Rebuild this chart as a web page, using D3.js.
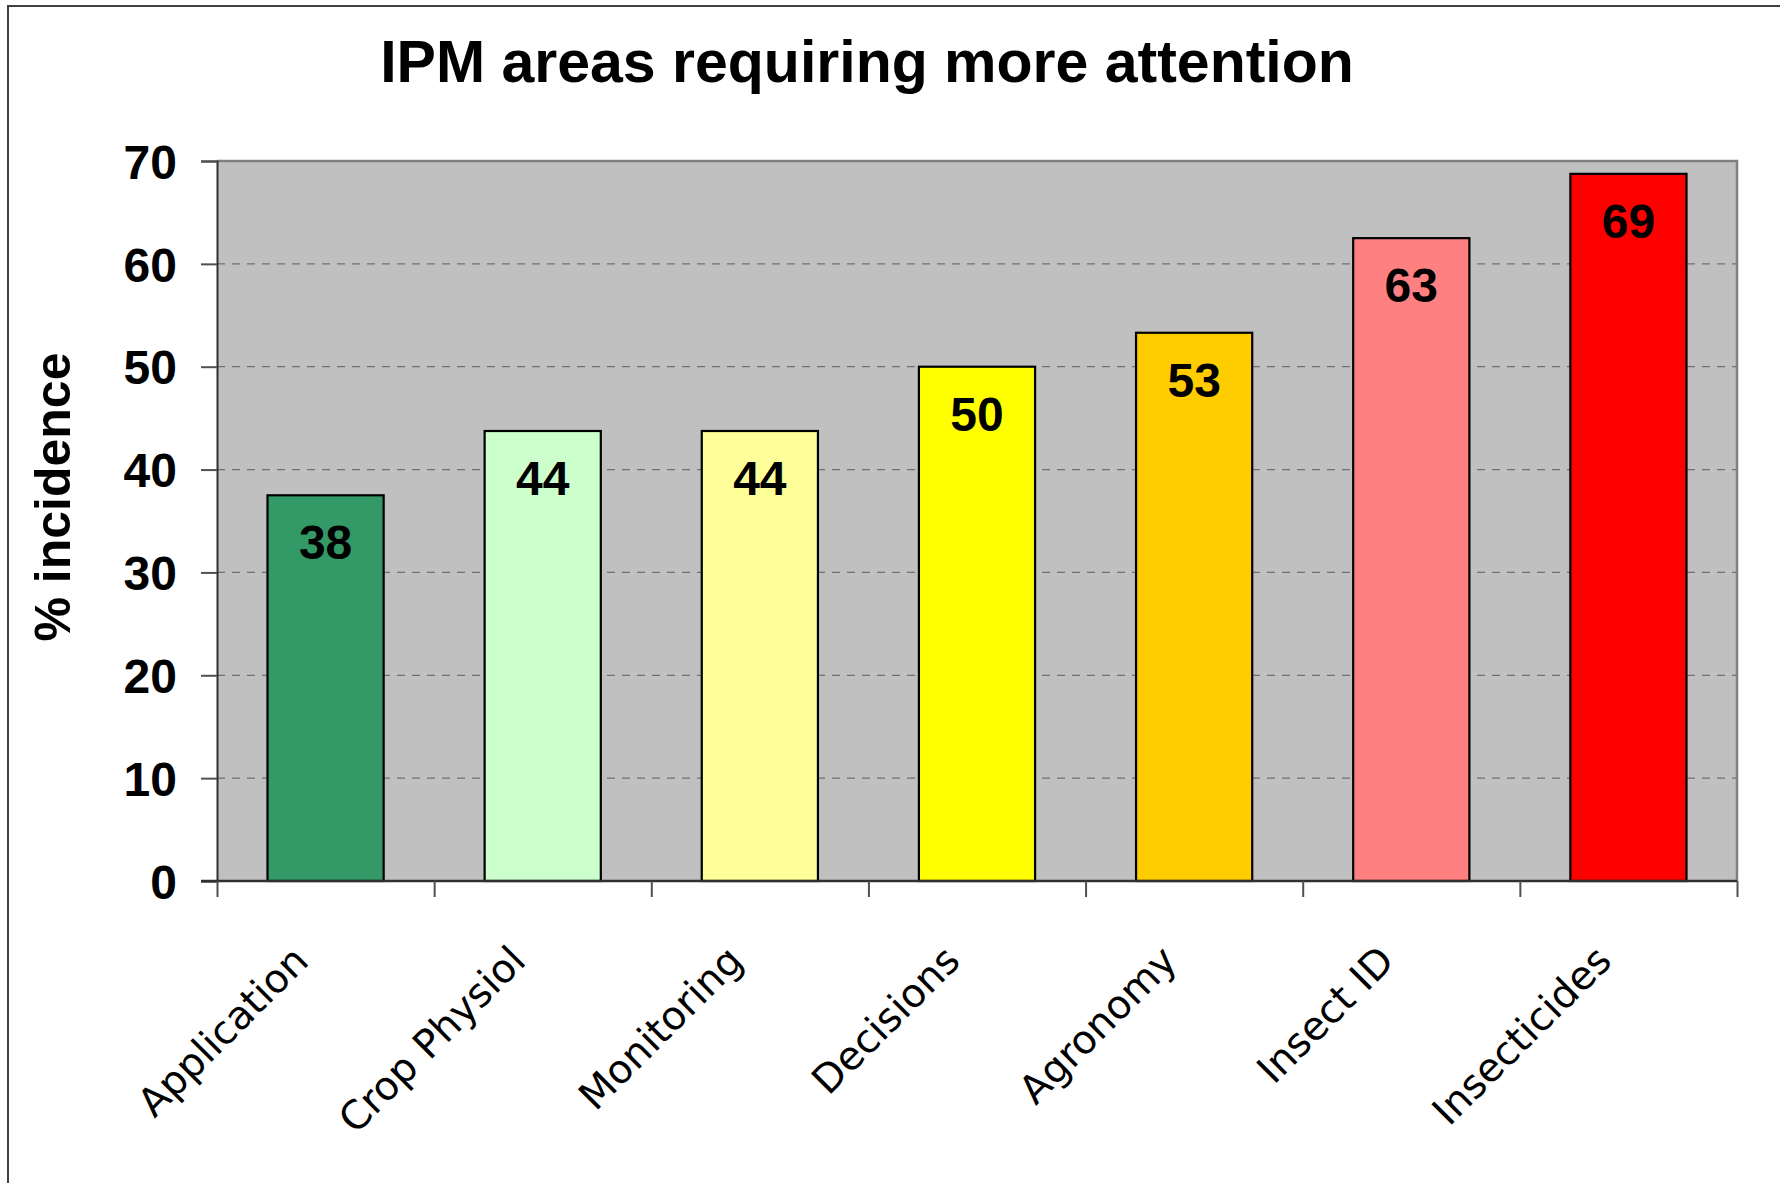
<!DOCTYPE html>
<html>
<head>
<meta charset="utf-8">
<script src="https://cdn.jsdelivr.net/npm/d3@7"></script>
<style>
  html, body { margin: 0; padding: 0; background: #fff; }
  svg { display: block; }
</style>
</head>
<body>
<div id="chart"></div>
<script>
(function () {
  // data
  const categories = ['Application', 'Crop Physiol', 'Monitoring', 'Decisions', 'Agronomy', 'Insect ID', 'Insecticides'];
  const values = [37.5, 43.75, 43.75, 50, 53.3, 62.5, 68.75];
  const barColors = ['#339966', '#CCFFCC', '#FFFF99', '#FFFF00', '#FFCC00', '#FF8080', '#FF0000'];
  const yTicks = [0, 10, 20, 30, 40, 50, 60, 70];

  const width = 1780, height = 1183;
  const plot = { left: 217, top: 161, right: 1737, bottom: 881 };
  const boldFont = '"Liberation Sans", Arial, sans-serif';
  const labelFont = '"DejaVu Sans", Verdana, sans-serif';

  const svg = d3.select('#chart').append('svg')
    .attr('width', width).attr('height', height);

  svg.append('rect').attr('width', width).attr('height', height).attr('fill', '#fff');

  // outer frame (bottom runs off the page)
  svg.append('rect')
    .attr('x', 8).attr('y', 6).attr('width', width).attr('height', height + 40)
    .attr('fill', 'none').attr('stroke', '#404040').attr('stroke-width', 2);

  const x = d3.scaleBand()
    .domain(categories)
    .range([plot.left, plot.right])
    .paddingInner(0.465)
    .paddingOuter(0.2325);

  // boundary ticks sit between categories
  const xEdge = d3.scaleLinear().domain([0, categories.length]).range([plot.left, plot.right]);

  const y = d3.scaleLinear().domain([0, 70]).range([plot.bottom, plot.top]);

  // plot background
  svg.append('rect')
    .attr('x', plot.left).attr('y', plot.top)
    .attr('width', plot.right - plot.left).attr('height', plot.bottom - plot.top)
    .attr('fill', '#C0C0C0');

  // gridlines
  svg.append('g').selectAll('line')
    .data(yTicks.filter((t) => t > 0 && t < 70))
    .join('line')
    .attr('x1', plot.left).attr('x2', plot.right)
    .attr('y1', (d) => y(d)).attr('y2', (d) => y(d))
    .attr('stroke', '#707070').attr('stroke-width', 1.3)
    .attr('stroke-dasharray', '8,7');

  // top and right border of plot area
  svg.append('path')
    .attr('d', `M${plot.left},${plot.top}H${plot.right}V${plot.bottom}`)
    .attr('fill', 'none').attr('stroke', '#808080').attr('stroke-width', 2.5);

  // bars
  svg.append('g').selectAll('rect')
    .data(values)
    .join('rect')
    .attr('x', (d, i) => x(categories[i]))
    .attr('y', (d) => y(d))
    .attr('width', x.bandwidth())
    .attr('height', (d) => y(0) - y(d))
    .attr('fill', (d, i) => barColors[i])
    .attr('stroke', '#000').attr('stroke-width', 2.2);

  // value labels
  svg.append('g').selectAll('text')
    .data(values)
    .join('text')
    .attr('x', (d, i) => x(categories[i]) + x.bandwidth() / 2)
    .attr('y', (d) => y(d) + 64)
    .attr('text-anchor', 'middle')
    .attr('font-family', boldFont).attr('font-weight', 'bold').attr('font-size', 48)
    .attr('fill', '#000')
    .text((d) => Math.round(d));

  // y axis
  const yAxis = svg.append('g')
    .attr('transform', `translate(${plot.left},0)`)
    .call(d3.axisLeft(y).tickValues(yTicks).tickSize(16).tickPadding(24).tickFormat(d3.format('d')));
  yAxis.select('.domain').attr('stroke', '#303030').attr('stroke-width', 2);
  yAxis.selectAll('.tick line').attr('stroke', '#505050').attr('stroke-width', 2);
  yAxis.selectAll('.tick text')
    .attr('font-family', boldFont).attr('font-weight', 'bold').attr('font-size', 48)
    .attr('fill', '#000').attr('dy', '0.36em');

  // x axis (ticks at category boundaries)
  const xAxis = svg.append('g')
    .attr('transform', `translate(0,${plot.bottom})`)
    .call(d3.axisBottom(xEdge).tickValues(d3.range(categories.length + 1)).tickSize(16).tickFormat(''));
  xAxis.select('.domain').attr('stroke', '#303030').attr('stroke-width', 2.5)
    .attr('d', `M${plot.left - 16},0H${plot.right}`);
  xAxis.selectAll('.tick line').attr('stroke', '#505050').attr('stroke-width', 2);

  // category labels, rotated
  svg.append('g').selectAll('text')
    .data(categories)
    .join('text')
    .attr('transform', (d) => `translate(${x(d) + x.bandwidth() / 2 - 15},${plot.bottom + 82}) rotate(-45)`)
    .attr('text-anchor', 'end')
    .attr('font-family', labelFont).attr('font-size', 39.5)
    .attr('fill', '#000')
    .text((d) => d);

  // title
  svg.append('text')
    .attr('x', 867).attr('y', 82)
    .attr('text-anchor', 'middle')
    .attr('font-family', boldFont).attr('font-weight', 'bold').attr('font-size', 59)
    .text('IPM areas requiring more attention');

  // y axis title
  svg.append('text')
    .attr('transform', 'translate(70,497) rotate(-90)')
    .attr('text-anchor', 'middle')
    .attr('font-family', boldFont).attr('font-weight', 'bold').attr('font-size', 50)
    .text('% incidence');
})();
</script>
</body>
</html>
